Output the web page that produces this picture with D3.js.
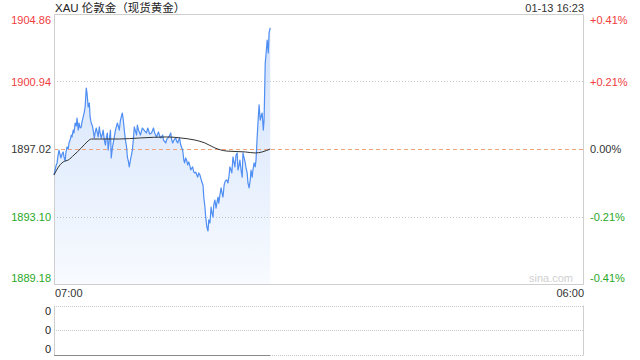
<!DOCTYPE html>
<html><head><meta charset="utf-8">
<script src="https://cdn.jsdelivr.net/npm/d3@7/dist/d3.min.js"></script>
<style>
html,body{margin:0;padding:0;background:#fff;}
svg{display:block;font-family:"Liberation Sans",Arial,sans-serif;}
</style></head>
<body><svg id="c" width="640" height="360"></svg>
<script>
// ---- data ----
const title = "XAU 伦敦金（现货黄金）";
const stamp = "01-13 16:23";
const timeLabels = ["07:00", "06:00"];
const sessionMinutes = 1380; // 07:00 -> 06:00 next day
const priceTicks = [1904.86, 1900.94, 1897.02, 1893.10, 1889.18];
const pctLabels = ["+0.41%", "+0.21%", "0.00%", "-0.21%", "-0.41%"];
const prevClose = 1897.02;
const volLabels = ["0", "0", "0"];
// minutes after 07:00
const minutes = [0,3,5,8,10,13,16,18,21,24,26,29,31,34,37,39,42,45,47,50,52,55,58,60,63,65,68,71,73,76,79,81,84,86,89,92,94,97,100,102,105,107,110,113,115,118,120,123,126,128,131,134,136,139,141,144,147,149,152,157,160,165,168,170,173,178,181,183,186,189,191,194,196,199,204,207,209,212,215,217,220,225,228,230,236,241,244,246,249,254,257,259,262,267,270,272,275,278,283,285,291,293,296,299,304,306,309,314,317,319,322,327,330,333,335,338,340,343,346,348,351,354,356,359,361,364,367,369,372,374,377,380,382,385,388,390,393,395,398,401,403,406,409,411,414,416,419,422,424,427,429,432,435,437,440,443,445,448,450,453,456,458,461,463,466,469,471,474,477,479,482,484,487,490,492,495,498,500,503,505,508,511,513,516,518,521,524,526,529,532,534,537,540,542,545,547,550,553,555,558,560,563];
const prices = [1895.51,1895.80,1896.03,1896.21,1896.56,1896.96,1896.67,1896.50,1896.73,1896.85,1896.56,1896.32,1896.79,1897.14,1897.02,1897.37,1897.54,1897.83,1897.72,1898.12,1897.95,1898.53,1898.36,1898.82,1898.12,1898.53,1898.24,1898.30,1898.59,1898.88,1899.17,1899.46,1900.56,1900.27,1899.46,1899.69,1898.88,1898.53,1898.36,1898.12,1897.66,1897.95,1898.24,1897.95,1897.72,1898.30,1897.95,1897.66,1897.89,1898.12,1897.54,1897.25,1897.66,1897.95,1896.96,1897.54,1898.12,1896.50,1897.08,1897.72,1898.12,1898.53,1898.30,1898.12,1898.70,1899.11,1898.59,1898.12,1897.54,1897.14,1896.56,1896.27,1895.98,1896.38,1896.96,1897.66,1898.30,1898.07,1897.83,1898.41,1898.12,1897.83,1898.07,1898.24,1898.07,1897.95,1898.24,1898.12,1897.89,1897.95,1898.12,1898.24,1897.95,1897.72,1897.89,1898.01,1897.78,1897.66,1897.83,1897.54,1897.37,1897.54,1897.66,1897.72,1897.95,1897.60,1897.37,1897.60,1897.66,1897.49,1897.37,1897.66,1897.25,1897.08,1896.96,1896.38,1896.21,1896.50,1896.32,1896.09,1896.27,1896.03,1895.80,1895.92,1895.98,1895.68,1895.63,1895.68,1895.51,1895.39,1895.63,1895.51,1895.34,1895.10,1894.93,1894.23,1893.65,1893.07,1892.49,1892.26,1892.90,1892.72,1893.65,1893.36,1893.07,1893.77,1894.06,1893.59,1893.88,1894.23,1893.88,1894.35,1894.76,1894.52,1894.23,1894.93,1895.10,1895.22,1895.22,1895.05,1895.51,1895.98,1895.80,1895.63,1896.56,1896.21,1895.98,1896.67,1896.79,1895.80,1896.09,1896.38,1895.80,1895.39,1896.79,1896.50,1896.21,1895.92,1895.63,1895.05,1894.76,1895.22,1895.80,1895.39,1895.80,1896.21,1895.98,1896.38,1897.72,1898.88,1899.58,1898.70,1898.99,1899.11,1898.12,1898.70,1902.01,1902.77,1903.35,1902.60,1903.76,1904.05];
const avgMinutes = [0,10,24,37,52,71,86,97,118,170,223,296,330,367,393,419,450,498,524,542,563];
const avgPrices = [1895.51,1895.92,1896.27,1896.38,1896.67,1897.08,1897.43,1897.60,1897.60,1897.60,1897.66,1897.72,1897.66,1897.54,1897.37,1897.08,1896.90,1896.85,1896.79,1896.85,1897.02];

// ---- drawing ----
const svg = d3.select("#c");
const L = 54, R = 584, T = 14, B = 284;
const VT = 305.5, VB = 354.5;
const red = "#f03c3c", green = "#28a828", grey = "#cfcfcf";

const x = d3.scaleLinear().domain([0, sessionMinutes]).range([L, R]);
const y = d3.scaleLinear().domain([priceTicks[4], priceTicks[0]]).range([B, T]);

const defs = svg.append("defs");
const grad = defs.append("linearGradient").attr("id","g")
  .attr("gradientUnits","userSpaceOnUse").attr("x1",0).attr("x2",0).attr("y1",T).attr("y2",B);
grad.append("stop").attr("offset","0%").attr("stop-color","#4f8ef2").attr("stop-opacity",0.28);
grad.append("stop").attr("offset","100%").attr("stop-color","#4f8ef2").attr("stop-opacity",0.04);

// gridlines
[priceTicks[1], priceTicks[3]].forEach(v => {
  svg.append("line").attr("x1",L).attr("x2",R).attr("y1",Math.round(y(v))+0.5).attr("y2",Math.round(y(v))+0.5)
    .attr("stroke","#c8c8c8").attr("stroke-dasharray","1,2");
});
const data = minutes.map((m,i)=>({m, p:prices[i]}));
const area = d3.area().x(d=>x(d.m)).y0(B).y1(d=>y(d.p));
svg.append("path").datum(data).attr("d",area).attr("fill","url(#g)");

// zero line
svg.append("line").attr("x1",L).attr("x2",R).attr("y1",Math.round(y(prevClose))+0.5).attr("y2",Math.round(y(prevClose))+0.5)
  .attr("stroke","#f0a37a").attr("stroke-dasharray","4,3");

// border
svg.append("path").attr("d",`M${L+0.5},${B+0.5}V${T+0.5}H${R-0.5}V${B+0.5}H${L}`)
  .attr("fill","none").attr("stroke",grey);

const line = d3.line().x(d=>x(d.m)).y(d=>y(d.p));
svg.append("path").datum(data).attr("d",line).attr("fill","none").attr("stroke","#4f8ef2").attr("stroke-width",1.2).attr("stroke-linejoin","round");
const avg = avgMinutes.map((m,i)=>({m, p:avgPrices[i]}));
svg.append("path").datum(avg).attr("d",d3.line().curve(d3.curveMonotoneX).x(d=>x(d.m)).y(d=>y(d.p)))
  .attr("fill","none").attr("stroke","#333").attr("stroke-width",1);

// labels
const fs = "11px";
priceTicks.forEach((v,i)=>{
  const yy = y(v);
  const base = i===0 ? yy+10 : (i===priceTicks.length-1 ? yy-2 : yy+4);
  const col = v>prevClose ? red : (v<prevClose ? green : "#333");
  svg.append("text").attr("x",51).attr("y",base).attr("text-anchor","end").attr("font-size",fs).attr("fill",col).text(v.toFixed(2));
  svg.append("text").attr("x",590).attr("y",base).attr("font-size",fs).attr("fill",col).text(pctLabels[i]);
});
svg.append("text").attr("x",55).attr("y",12).attr("font-size","11.5px").attr("fill","#222")
  .style("font-family",'"Liberation Sans","Noto Sans CJK SC",sans-serif').text(title);
svg.append("text").attr("x",R).attr("y",12).attr("text-anchor","end").attr("font-size",fs).attr("fill","#333").text(stamp);
svg.append("text").attr("x",55).attr("y",297).attr("font-size",fs).attr("fill","#333").text(timeLabels[0]);
svg.append("text").attr("x",R).attr("y",297).attr("text-anchor","end").attr("font-size",fs).attr("fill","#333").text(timeLabels[1]);
svg.append("text").attr("x",573).attr("y",282).attr("text-anchor","end").attr("font-size",fs).attr("fill","#d0d0d0").text("sina.com");

// volume panel
[VT, (VT+VB)/2, VB].forEach((yy,i)=>{
  svg.append("line").attr("x1",L).attr("x2",R).attr("y1",Math.round(yy)+0.5).attr("y2",Math.round(yy)+0.5)
    .attr("stroke","#c8c8c8").attr("stroke-dasharray","1,1");
  const base = i===0 ? yy+9 : (i===2 ? yy-2 : yy+4);
  svg.append("text").attr("x",51).attr("y",base).attr("text-anchor","end").attr("font-size",fs).attr("fill","#222").text(volLabels[i]);
});
svg.append("line").attr("x1",L+0.5).attr("x2",L+0.5).attr("y1",VT).attr("y2",VB+1).attr("stroke",grey);
svg.append("line").attr("x1",R-0.5).attr("x2",R-0.5).attr("y1",VT).attr("y2",VB+1).attr("stroke",grey);
svg.append("line").attr("x1",x(minutes[0])).attr("x2",x(minutes[minutes.length-1])).attr("y1",Math.round(VB)+0.5).attr("y2",Math.round(VB)+0.5)
  .attr("stroke","#8a8a8a");
</script></body></html>
